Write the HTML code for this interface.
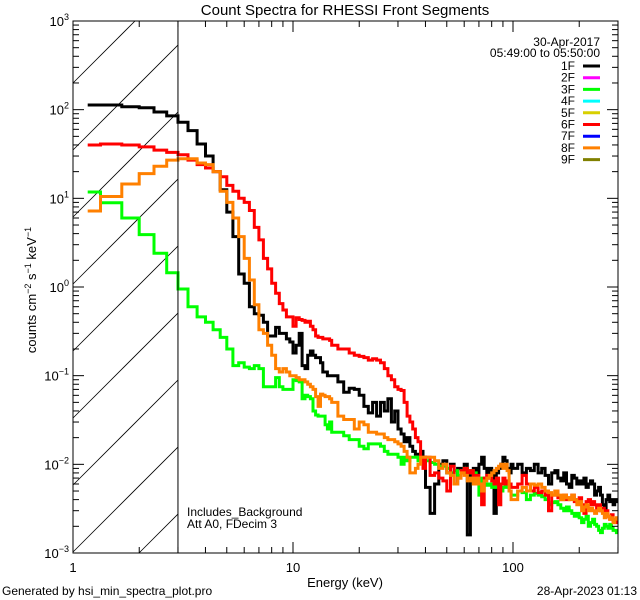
<!DOCTYPE html>
<html><head><meta charset="utf-8"><style>
html,body{margin:0;padding:0;background:#fff;width:640px;height:600px;overflow:hidden;}
svg{display:block;font-family:"Liberation Sans",sans-serif;}
</style></head><body>
<svg id="chart" width="640" height="600" viewBox="0 0 640 600">
<defs><clipPath id="plotclip"><rect x="73" y="21" width="545" height="532"/></clipPath></defs>
<rect x="0" y="0" width="640" height="600" fill="#fff"/>
<text x="345" y="15" text-anchor="middle" font-size="15">Count Spectra for RHESSI Front Segments</text>
<g id="hatch"></g>
<g id="series" clip-path="url(#plotclip)"></g>
<g id="axes"></g>
<text x="187" y="516" font-size="12">Includes_Background</text>
<text x="187" y="528" font-size="12">Att A0, FDecim 3</text>
<text x="345" y="587" text-anchor="middle" font-size="13">Energy (keV)</text>
<text transform="translate(36,290) rotate(-90)" text-anchor="middle" font-size="13">counts cm<tspan dy="-5" font-size="9">−2</tspan><tspan dy="5"> s</tspan><tspan dy="-5" font-size="9">−1</tspan><tspan dy="5"> keV</tspan><tspan dy="-5" font-size="9">−1</tspan></text>
<text x="2" y="595" font-size="12">Generated by hsi_min_spectra_plot.pro</text>
<text x="637" y="595" text-anchor="end" font-size="12">28-Apr-2023 01:13</text>
<text x="600" y="46" text-anchor="end" font-size="12">30-Apr-2017</text>
<text x="600" y="57" text-anchor="end" font-size="12">05:49:00 to 05:50:00</text>
<g id="legend"></g>
</svg>
<script>
// ---- data ----
const blackLow=[113,113,108,105,94,85,72,58,41,30,20,12.5,7,3.7,1.4,1.1,0.6,0.5,0.48,0.4,0.28,0.28,0.35,0.3,0.3,0.26,0.24,0.18,0.22,0.3,0.13,0.12,0.17,0.19,0.17,0.16,0.16,0.14,0.11,0.11,0.1,0.1];
const blackMid=[0.1,0.085,0.065,0.072,0.07,0.06,0.045,0.038,0.05,0.035,0.05,0.04,0.055,0.03,0.04,0.025,0.022,0.018,0.02,0.016,0.014,0.013,0.013,0.014,0.012];
const blackHigh=[0.0055,0.0028,0.006,0.01,0.011,0.008,0.01,0.006,0.009,0.008,0.01,0.0016,0.008,0.009,0.008,0.01,0.012,0.009,0.007,0.009,0.008,0.0028,0.008,0.009,0.01,0.012,0.011,0.009,0.008,0.01];
const blackTop=[0.009,0.01,0.008,0.009,0.0085,0.01,0.008,0.009,0.0075,0.006,0.008,0.0085,0.007,0.0065,0.008,0.006,0.0055,0.0075,0.007,0.006,0.0065,0.006,0.007,0.0055,0.006,0.0065,0.006,0.0045,0.005,0.0055,0.0045,0.0035,0.0028,0.004,0.0045,0.0038,0.004,0.0035,0.004,0.0038];

const greenLow=[11.8,8.9,6,3.9,2.4,1.45,0.95,0.6,0.46,0.4,0.33,0.27,0.2,0.13,0.14,0.125,0.12,0.13,0.12,0.075,0.075,0.075,0.095,0.075,0.07,0.07,0.07,0.09,0.088,0.085,0.055,0.06,0.058,0.055,0.04,0.036,0.035,0.035,0.035,0.028,0.025,0.03];
const greenMid=[0.023,0.023,0.021,0.019,0.019,0.016,0.015,0.017,0.017,0.017,0.016,0.014,0.013,0.013,0.013,0.012,0.01,0.012,0.011,0.012,0.012,0.012,0.011,0.012,0.011];
const greenHigh=[0.011,0.0105,0.01,0.0095,0.0095,0.009,0.008,0.0085,0.0075,0.0085,0.009,0.008,0.0085,0.008,0.0065,0.0045,0.007,0.006,0.0058,0.006,0.0055,0.006,0.0055,0.006,0.005,0.0055,0.006,0.0055,0.005,0.0045];
const greenTop=[0.0045,0.005,0.0048,0.004,0.0045,0.0047,0.0045,0.0043,0.004,0.0035,0.0037,0.0038,0.0035,0.0032,0.003,0.0033,0.003,0.0028,0.0026,0.0028,0.0025,0.0022,0.0024,0.0026,0.002,0.0022,0.0024,0.0021,0.002,0.0018,0.0017,0.0019,0.0021,0.002,0.0019,0.0021,0.0019,0.0018,0.0018,0.0017];

const redLow=[40,41,40,38,35,33,31,27,24,22,20,17.5,14,12,10,9,7.3,4.7,3.4,2.1,1.6,1.1,0.85,0.65,0.55,0.46,0.46,0.36,0.45,0.43,0.42,0.4,0.41,0.36,0.33,0.28,0.27,0.27,0.26,0.26,0.26,0.25];
const redMid=[0.22,0.2,0.2,0.18,0.17,0.165,0.16,0.15,0.155,0.15,0.14,0.12,0.1,0.09,0.075,0.07,0.068,0.05,0.035,0.03,0.025,0.02,0.018,0.012,0.009];
const redHigh=[0.012,0.0075,0.008,0.007,0.0065,0.005,0.0095,0.006,0.007,0.0085,0.009,0.008,0.0085,0.007,0.0075,0.006,0.0035,0.007,0.0075,0.007,0.0065,0.006,0.007,0.0035,0.006,0.007,0.006,0.0065,0.006,0.0055];
const redTop=[0.0055,0.006,0.0075,0.006,0.005,0.0055,0.0048,0.005,0.0045,0.003,0.0045,0.005,0.0042,0.004,0.0045,0.004,0.0042,0.0045,0.0038,0.004,0.0042,0.0035,0.0028,0.0038,0.004,0.0035,0.0038,0.0035,0.0032,0.0035,0.003,0.0032,0.0028,0.003,0.0026,0.0024,0.0027,0.0023,0.0022,0.0023];

const orangeLow=[7.2,10.5,14.5,19,23,27,28,28,25,24,20,12,9,6,3.7,2.1,1.2,0.63,0.33,0.3,0.22,0.17,0.12,0.11,0.12,0.11,0.1,0.1,0.095,0.09,0.09,0.085,0.08,0.075,0.07,0.058,0.045,0.062,0.06,0.058,0.058,0.055];
const orangeMid=[0.05,0.035,0.032,0.032,0.025,0.03,0.028,0.023,0.023,0.022,0.022,0.02,0.019,0.019,0.018,0.017,0.016,0.014,0.012,0.008,0.008,0.009,0.01,0.012,0.012];
const orangeHigh=[0.012,0.012,0.011,0.009,0.01,0.008,0.0075,0.006,0.007,0.008,0.0075,0.0065,0.007,0.006,0.007,0.006,0.005,0.0065,0.007,0.0075,0.008,0.0085,0.009,0.0095,0.01,0.009,0.01,0.0085,0.005,0.004];
const orangeTop=[0.004,0.005,0.0055,0.005,0.006,0.0058,0.006,0.0055,0.005,0.0048,0.0045,0.005,0.0045,0.004,0.0045,0.0042,0.004,0.0045,0.004,0.0035,0.0038,0.003,0.0033,0.0035,0.003,0.0032,0.003,0.0028,0.003,0.0032,0.003,0.0028,0.0025,0.0028,0.0026,0.0024,0.0025,0.0022,0.0024,0.0025];

const legendLabels=["1F","2F","3F","4F","5F","6F","7F","8F","9F"];
const legendColors=["#000000","#ff00ff","#00ff00","#00ffff","#d8d000","#ff0000","#0000ff","#ff8000","#808000"];
const xTickLabels=["1","10","100"];
const yTickExps=["-3","-2","-1","0","1","2","3"];

// ---- bin edges (energy, keV) ----
const edges=[3.5/3];
for(let k=4;k<=45;k++) edges.push(k/3);
for(let e=16;e<=40;e++) edges.push(e);
for(let e=42;e<=100;e+=2) edges.push(e);
for(let e=105;e<=300;e+=5) edges.push(e);

// ---- axes ----
const X0=73,X1=618,Y0=21,Y1=553,DEC=220,YDEC=(Y1-Y0)/6;
function xs(e){return X0+Math.log10(e)*DEC;}
function ys(v){return Y0+(3-Math.log10(v))*YDEC;}
const NS="http://www.w3.org/2000/svg";
function mk(tag,attrs,parent){const el=document.createElementNS(NS,tag);for(const k in attrs)el.setAttribute(k,attrs[k]);parent.appendChild(el);return el;}

// hatch: lines y = c - (x - X0), clipped geometrically to [X0, x3] x [Y0, Y1]
const hatch=document.getElementById('hatch');
const XH=xs(3);
for(let c=16;c<Y1+(XH-X0);c+=67){
  // x range where Y0<=y<=Y1 : x in [X0+c-Y1, X0+c-Y0]
  const xa=Math.max(X0, X0+c-Y1), xb=Math.min(XH, X0+c-Y0);
  if(xb<=xa) continue;
  const ya=c-(xa-X0), yb=c-(xb-X0);
  const ln=mk('line',{x1:xa,y1:ya,x2:xb,y2:yb,stroke:'#000','stroke-width':0.8},hatch);
  
  
}

const axes=document.getElementById('axes');
const box=mk('rect',{x:X0,y:Y0,width:X1-X0,height:Y1-Y0,fill:'none',stroke:'#000','stroke-width':1},axes);


const thr=mk('line',{x1:XH,y1:Y0,x2:XH,y2:Y1,stroke:'#000','stroke-width':1},axes);



// x ticks
for(let d=0;d<3;d++){
  for(let m=1;m<=9;m++){
    const e=m*Math.pow(10,d); if(e>300) break;
    const x=xs(e), L=(m===1)?11:6;
    const t1=mk('line',{x1:x,y1:Y1,x2:x,y2:Y1-L,stroke:'#000','stroke-width':1},axes);
    
    
    const t2=mk('line',{x1:x,y1:Y0,x2:x,y2:Y0+L,stroke:'#000','stroke-width':1},axes);
    
    
  }
  const lb=mk('text',{x:xs(Math.pow(10,d)),y:Y1+19,'text-anchor':'middle','font-size':13},axes);
  lb.textContent=xTickLabels[d];
  
  
}
// y ticks
for(let i=0;i<yTickExps.length;i++){
  const p=parseInt(yTickExps[i]);
  for(let m=1;m<=9;m++){
    if(p===3&&m>1) break;
    const y=ys(m*Math.pow(10,p)), L=(m===1)?11:6;
    const t1=mk('line',{x1:X0,y1:y,x2:X0+L,y2:y,stroke:'#000','stroke-width':1},axes);
    
    
    const t2=mk('line',{x1:X1,y1:y,x2:X1-L,y2:y,stroke:'#000','stroke-width':1},axes);
    
    
  }
  const lb=mk('text',{x:X0-4,y:ys(Math.pow(10,p))+5,'text-anchor':'end','font-size':13},axes);
  
  
  const t=document.createElementNS(NS,'tspan');t.textContent='10';lb.appendChild(t);
  const s=document.createElementNS(NS,'tspan');s.setAttribute('dy','-6');s.setAttribute('font-size','9');
  s.textContent=yTickExps[i].replace('-','−');lb.appendChild(s);
}

// series
const seriesDefs=[
  ['series-1f','#000000',blackLow.concat(blackMid,blackHigh,blackTop)],
  ['series-3f','#00ff00',greenLow.concat(greenMid,greenHigh,greenTop)],
  ['series-6f','#ff0000',redLow.concat(redMid,redHigh,redTop)],
  ['series-8f','#ff8000',orangeLow.concat(orangeMid,orangeHigh,orangeTop)]
];
const sg=document.getElementById('series');
for(const [name,color,vals] of seriesDefs){
  let d='';
  const n=Math.min(vals.length,edges.length-1);
  for(let i=0;i<n;i++){
    const xa=xs(edges[i]).toFixed(1), xb=xs(edges[i+1]).toFixed(1), y=ys(vals[i]).toFixed(1);
    d+=(i===0?'M':'L')+xa+','+y+'L'+xb+','+y;
  }
  const p=mk('path',{d:d,fill:'none',stroke:color,'stroke-width':3,'stroke-linejoin':'miter'},sg);
  
  
}

// legend
const lg=document.getElementById('legend');
for(let i=0;i<legendLabels.length;i++){
  const y=66+i*11.7;
  const t=mk('text',{x:575,y:y+4,'text-anchor':'end','font-size':12},lg);
  t.textContent=legendLabels[i];
  
  
  const l=mk('line',{x1:583,y1:y,x2:600,y2:y,stroke:legendColors[i],'stroke-width':3},lg);
  
  
}
</script>
</body></html>
